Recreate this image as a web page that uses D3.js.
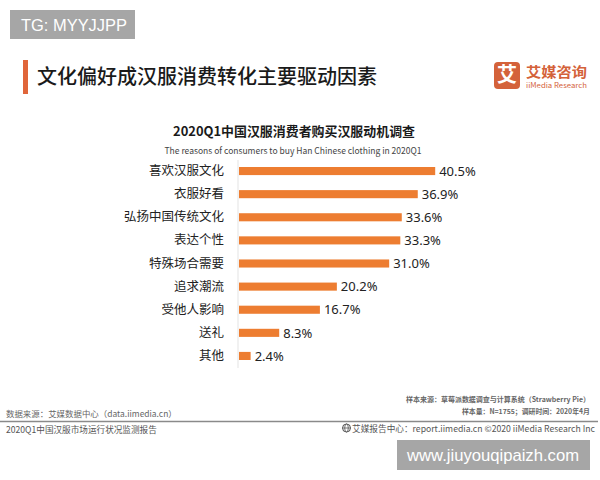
<!DOCTYPE html>
<html>
<head>
<meta charset="utf-8">
<script src="https://cdn.jsdelivr.net/npm/d3@7"></script>
<style>
  html, body { margin: 0; padding: 0; background: #fff; }
  svg { display: block; font-family: "Noto Sans CJK SC", "Noto Sans", sans-serif; }
</style>
</head>
<body>
<svg id="chart" width="600" height="480"></svg>
<script>
// 数据
const categories = ['喜欢汉服文化', '衣服好看', '弘扬中国传统文化', '表达个性', '特殊场合需要', '追求潮流', '受他人影响', '送礼', '其他'];
const values = [40.5, 36.9, 33.6, 33.3, 31.0, 20.2, 16.7, 8.3, 2.4];

const svg = d3.select('#chart');
const orange = '#ED7D31';

// 按目标宽度调整字号
function fitText(sel, width) {
    const fs = +sel.attr('font-size');
    const w = sel.node().getComputedTextLength();
    sel.attr('font-size', (fs * width / w).toFixed(2));
    return sel;
}

// 比例尺
const x = d3.scaleLinear().domain([0, 45]).range([239, 457]);
const y = d3.scaleBand().domain(categories).range([167, 360]).paddingInner(0.65).paddingOuter(0);

// 左上角水印
svg.append('rect').attr('x', 10).attr('y', 10).attr('width', 125).attr('height', 29).attr('fill', '#a6a6a6');
svg.append('text').attr('x', 21).attr('y', 31)
    .attr('font-family', '"Liberation Sans", Arial, sans-serif')
    .attr('font-size', 16).attr('fill', '#fff')
    .attr('textLength', 106).attr('lengthAdjust', 'spacingAndGlyphs')
    .text('TG: MYYJJPP');

// 页面标题
svg.append('rect').attr('x', 23).attr('y', 60).attr('width', 5).attr('height', 34).attr('fill', '#e0653a');
svg.append('text').attr('x', 37).attr('y', 84)
    .attr('font-size', 20).attr('font-weight', 500).attr('fill', '#1a1a1a')
    .text('文化偏好成汉服消费转化主要驱动因素');

// logo
svg.append('rect').attr('x', 494).attr('y', 62).attr('width', 26).attr('height', 27).attr('rx', 4).attr('fill', '#d4623a');
svg.append('text').attr('x', 507).attr('y', 82).attr('text-anchor', 'middle')
    .attr('font-size', 20).attr('font-weight', 700).attr('fill', '#fff').text('艾');
svg.append('text').attr('x', 526).attr('y', 76.5)
    .attr('font-size', 14).attr('font-weight', 700).attr('fill', '#d4623a')
    .attr('textLength', 61).attr('lengthAdjust', 'spacingAndGlyphs').text('艾媒咨询');
svg.append('text').attr('x', 526).attr('y', 88)
    .attr('font-size', 7).attr('fill', '#d4623a')
    .attr('textLength', 61).attr('lengthAdjust', 'spacingAndGlyphs').text('iiMedia Research');

// 图表标题
svg.append('text').attr('x', 294).attr('y', 136).attr('text-anchor', 'middle')
    .attr('font-size', 13).attr('font-weight', 700).attr('fill', '#1a1a1a')
    .attr('textLength', 242).attr('lengthAdjust', 'spacingAndGlyphs')
    .text('2020Q1中国汉服消费者购买汉服动机调查');
svg.append('text').attr('x', 293).attr('y', 154).attr('text-anchor', 'middle')
    .attr('font-size', 9).attr('fill', '#444')
    .attr('textLength', 257).attr('lengthAdjust', 'spacingAndGlyphs')
    .text('The reasons of consumers to buy Han Chinese clothing  in 2020Q1');

// 坐标轴
const axis = svg.append('g')
    .attr('transform', `translate(${x(0) - 1},0)`)
    .call(d3.axisLeft(y).tickSize(0).tickPadding(14));
axis.select('.domain').remove();
axis.selectAll('text')
    .attr('font-family', '"Noto Sans CJK SC", sans-serif')
    .attr('font-size', 12.5).attr('fill', '#222');
svg.append('line')
    .attr('x1', x(0) - 1).attr('x2', x(0) - 1)
    .attr('y1', 160).attr('y2', 368)
    .attr('stroke', '#e3e3e3').attr('stroke-width', 1);

// 柱子
svg.append('g').selectAll('rect')
    .data(values)
    .join('rect')
    .attr('x', x(0))
    .attr('y', (d, i) => y(categories[i]))
    .attr('width', d => x(d) - x(0))
    .attr('height', y.bandwidth())
    .attr('fill', orange);

// 数值标签
svg.append('g').selectAll('text')
    .data(values)
    .join('text')
    .attr('x', d => x(d) + 4)
    .attr('y', (d, i) => y(categories[i]) + y.bandwidth() / 2)
    .attr('dy', '0.36em')
    .attr('font-family', '"Noto Sans", sans-serif')
    .attr('font-size', 13).attr('fill', '#222')
    .text(d => d.toFixed(1) + '%');

// 页脚
fitText(svg.append('text').attr('x', 406).attr('y', 402)
    .attr('font-size', 7.5).attr('font-weight', 700).attr('fill', '#666')
    .text('样本来源：草莓派数据调查与计算系统（Strawberry Pie）'), 184);
fitText(svg.append('text').attr('x', 462).attr('y', 413.5)
    .attr('font-size', 7.5).attr('font-weight', 700).attr('fill', '#666')
    .text('样本量：N=1755；调研时间：2020年4月'), 128);
fitText(svg.append('text').attr('x', 6).attr('y', 416.5)
    .attr('font-size', 9).attr('fill', '#666')
    .text('数据来源：艾媒数据中心（data.iimedia.cn）'), 171);
svg.append('line').attr('x1', 0).attr('x2', 598).attr('y1', 421.5).attr('y2', 421.5)
    .attr('stroke', '#8a8a8a').attr('stroke-width', 1.5);
fitText(svg.append('text').attr('x', 6).attr('y', 432.5)
    .attr('font-size', 9).attr('fill', '#555')
    .text('2020Q1中国汉服市场运行状况监测报告'), 151);
// 地球图标
const globe = svg.append('g').attr('transform', 'translate(346.5,428)');
globe.append('circle').attr('r', 4).attr('fill', 'none').attr('stroke', '#555').attr('stroke-width', 1);
globe.append('ellipse').attr('rx', 1.8).attr('ry', 4).attr('fill', 'none').attr('stroke', '#555').attr('stroke-width', 0.8);
globe.append('line').attr('x1', -4).attr('x2', 4).attr('stroke', '#555').attr('stroke-width', 0.8);
fitText(svg.append('text').attr('x', 352).attr('y', 432)
    .attr('font-size', 9).attr('fill', '#555')
    .text('艾媒报告中心：report.iimedia.cn  ©2020  iiMedia Research  Inc'), 243);

// 右下角水印
svg.append('rect').attr('x', 397).attr('y', 440).attr('width', 193).attr('height', 30).attr('fill', '#a6a6a6');
svg.append('text').attr('x', 407).attr('y', 461)
    .attr('font-family', '"Liberation Sans", Arial, sans-serif')
    .attr('font-size', 17).attr('fill', '#fff')
    .attr('textLength', 172).attr('lengthAdjust', 'spacingAndGlyphs')
    .text('www.jiuyouqipaizh.com');
</script>
</body>
</html>
